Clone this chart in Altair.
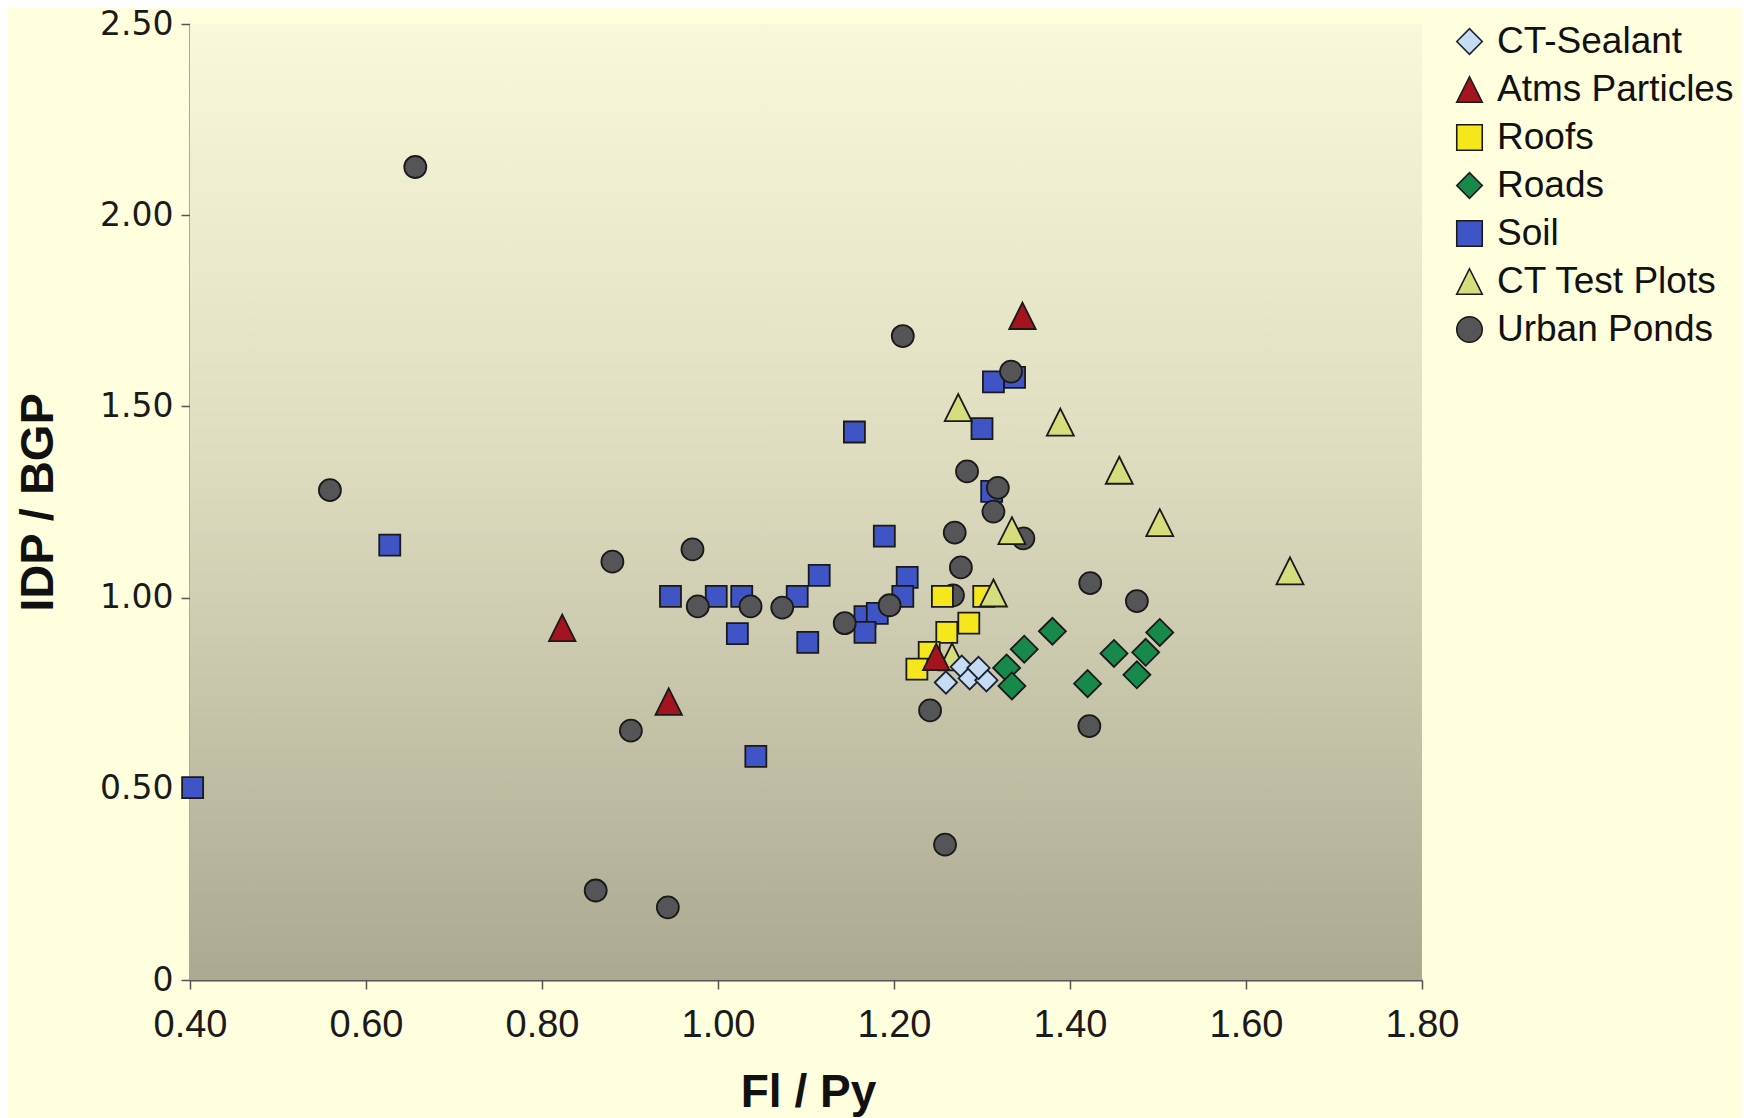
import altair as alt
import pandas as pd

series_names = ["CT-Sealant", "Atms Particles", "Roofs", "Roads", "Soil", "CT Test Plots", "Urban Ponds"]
series_colors = ["#c6dcf2", "#a3141e", "#f6e71c", "#17894a", "#3f55c6", "#d5dd7c", "#555557"]
series_outlines = ["#1a2233", "#1a1a1a", "#1a1a1a", "#1a1a1a", "#1a1a1a", "#1a1a1a", "#1a1a1a"]
TRI = "M0,-1L1,1L-1,1Z"
series_shapes = ["diamond", TRI, "square", "diamond", "square", TRI, "circle"]

sealant_x = [1.259, 1.277, 1.286, 1.305, 1.296]
sealant_y = [0.778, 0.819, 0.789, 0.784, 0.816]

atms_x = [0.823, 0.944, 1.346, 1.248]
atms_y = [0.921, 0.728, 1.737, 0.845]

roofs_x = [1.255, 1.302, 1.285, 1.260, 1.240, 1.226]
roofs_y = [1.003, 1.003, 0.933, 0.909, 0.857, 0.813]

roads_x = [1.380, 1.348, 1.328, 1.334, 1.420, 1.450, 1.486, 1.502, 1.476]
roads_y = [0.912, 0.865, 0.816, 0.769, 0.775, 0.854, 0.857, 0.909, 0.798]

soil_x = [0.403, 0.627, 0.946, 0.998, 1.027, 1.022, 1.090, 1.115, 1.102, 1.043, 1.155,
          1.189, 1.215, 1.210, 1.167, 1.181, 1.167, 1.313, 1.337, 1.300, 1.311]
soil_y = [0.503, 1.137, 1.003, 1.003, 1.003, 0.906, 1.003, 1.058, 0.883, 0.585, 1.433,
          1.161, 1.053, 1.003, 0.950, 0.959, 0.909, 1.564, 1.576, 1.442, 1.278]

test_x = [1.273, 1.389, 1.456, 1.502, 1.650, 1.334, 1.313, 1.266]
test_y = [1.497, 1.459, 1.333, 1.196, 1.070, 1.175, 1.012, 0.845]

ponds_x = [0.656, 0.559, 0.880, 0.971, 0.977, 1.037, 1.073, 1.144, 1.195, 1.210, 0.901,
           0.861, 0.943, 1.258, 1.241, 1.333, 1.283, 1.318, 1.313, 1.269, 1.276, 1.267,
           1.347, 1.423, 1.476, 1.422]
ponds_y = [2.126, 1.281, 1.094, 1.126, 0.977, 0.977, 0.974, 0.933, 0.980, 1.684, 0.652,
           0.234, 0.190, 0.354, 0.705, 1.591, 1.330, 1.287, 1.225, 1.170, 1.079, 1.006,
           1.155, 1.038, 0.991, 0.664]

x_ticks = [0.4, 0.6, 0.8, 1.0, 1.2, 1.4, 1.6, 1.8]
y_ticks = [0, 0.5, 1.0, 1.5, 2.0, 2.5]

series_data = {
    "CT-Sealant": (sealant_x, sealant_y, 500),
    "Atms Particles": (atms_x, atms_y, 700),
    "Roofs": (roofs_x, roofs_y, 441),
    "Roads": (roads_x, roads_y, 729),
    "Soil": (soil_x, soil_y, 441),
    "CT Test Plots": (test_x, test_y, 729),
    "Urban Ponds": (ponds_x, ponds_y, 484),
}
draw_order = ["Soil", "Urban Ponds", "Roads", "Roofs", "CT Test Plots", "Atms Particles", "CT-Sealant"]

xscale = alt.Scale(domain=[0.4, 1.8], nice=False, zero=False)
yscale = alt.Scale(domain=[0, 2.5], nice=False, zero=False)

xaxis = alt.Axis(
    values=x_ticks, format=".2f", grid=False, labelFlush=False,
    domainColor="#555555", domainWidth=2, tickColor="#555555", tickWidth=1.5, tickSize=9,
    labelFont="Liberation Sans", labelFontSize=38, labelColor="#1a1a1a", labelPadding=17,
    title="Fl / Py", titleFont="Liberation Sans", titleFontSize=46, titleFontWeight="bold",
    titleColor="#111111", titleX=618, titleY=112, titleAlign="center", titleBaseline="middle",
)
yaxis = alt.Axis(
    values=y_ticks, grid=False, labelFlush=False,
    labelExpr="datum.value == 0 ? '0' : format(datum.value, '.2f')",
    domainColor="#555555", domainWidth=2, tickColor="#555555", tickWidth=1.5, tickSize=9,
    labelFont="DejaVu Sans", labelFontSize=33, labelColor="#1a1a1a", labelPadding=8,
    title="IDP / BGP", titleFont="Liberation Sans", titleFontSize=47, titleFontWeight="bold",
    titleColor="#111111", titleX=-152, titleY=478, titleAlign="center", titleBaseline="middle",
    titleAngle=270,
)

legend = alt.Legend(
    title=None, orient="none", legendX=1261, legendY=-1, padding=0,
    labelFont="Liberation Sans", labelFontSize=37, labelColor="#111111", labelOffset=9,
    labelLimit=500, symbolSize=650, symbolStrokeWidth=1.6, rowPadding=10,
    symbolOpacity=1,
)

fill_enc = alt.Fill("series:N", scale=alt.Scale(domain=series_names, range=series_colors), legend=legend)
shape_enc = alt.Shape("series:N", scale=alt.Scale(domain=series_names, range=series_shapes), legend=legend)
stroke_enc = alt.Stroke("series:N", scale=alt.Scale(domain=series_names, range=series_outlines), legend=legend)

bg_df = pd.DataFrame({"fx": [0.4], "fx2": [1.8], "fy": [0.0], "fy2": [2.5]})
background = alt.Chart(bg_df).mark_rect(
    color=alt.Gradient(
        gradient="linear", x1=0, x2=0, y1=0, y2=1,
        stops=[
            alt.GradientStop(offset=0, color="#f8f8db"),
            alt.GradientStop(offset=0.45, color="#deddc0"),
            alt.GradientStop(offset=1, color="#abaa91"),
        ],
    )
).encode(
    x=alt.X("fx:Q", scale=xscale, axis=xaxis),
    x2="fx2:Q",
    y=alt.Y("fy:Q", scale=yscale, axis=yaxis),
    y2="fy2:Q",
)

layers = [background]
for name in draw_order:
    xs, ys, sz = series_data[name]
    df = pd.DataFrame({"fx": xs, "fy": ys, "series": [name] * len(xs)})
    layers.append(
        alt.Chart(df).mark_point(
            filled=True, size=sz, strokeWidth=1.8, opacity=1
        ).encode(
            x=alt.X("fx:Q", scale=xscale, axis=xaxis),
            y=alt.Y("fy:Q", scale=yscale, axis=yaxis),
            fill=fill_enc,
            shape=shape_enc,
            stroke=stroke_enc,
        )
    )

chart = alt.layer(*layers).properties(
    width=1232, height=956,
    autosize=alt.AutoSizeParams(type="none"),
    padding={"left": 182, "top": 16, "right": 320, "bottom": 138},
).configure(background="#ffffdd").configure_view(stroke=None)

chart.save("out.html", embed_options={"renderer": "svg", "actions": False})
